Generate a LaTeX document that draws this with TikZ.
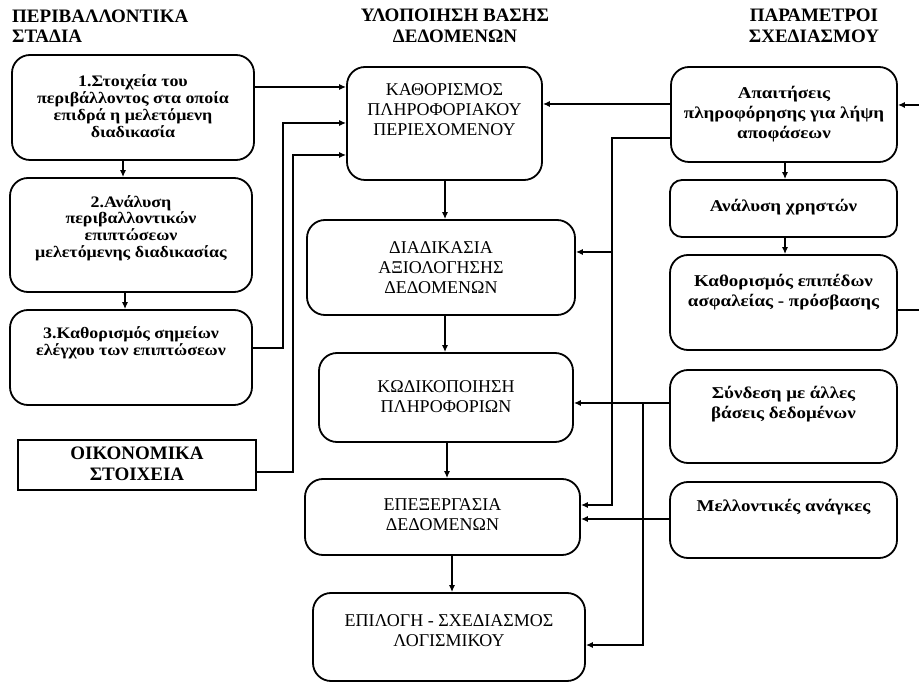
\documentclass[tikz,border=0pt]{standalone}
\usepackage{fontspec}
\setmainfont{Liberation Serif}
\newfontfamily\widelft[FakeStretch=1.12]{Liberation Serif}
\newfontfamily\widergt[FakeStretch=1.15]{Liberation Serif}
\usetikzlibrary{arrows.meta,calc}
\begin{document}
\begin{tikzpicture}[x=1pt,y=-1pt,
  box/.style={draw,line width=1.8pt,rounded corners=18pt,inner sep=0pt},
  sbox/.style={draw,line width=1.8pt,rounded corners=12pt,inner sep=0pt},
  rbox/.style={draw,line width=1.8pt,inner sep=0pt},
  head/.style={font=\bfseries\fontsize{19}{20.5}\selectfont,align=center,inner sep=0pt},
  ltxt/.style={font=\widelft\bfseries\fontsize{16}{16.8}\selectfont,align=center,inner sep=0pt},
  rtxt/.style={font=\widergt\bfseries\fontsize{16.5}{20}\selectfont,align=center,inner sep=0pt},
  mtxt/.style={font=\fontsize{18}{20}\selectfont,align=center,inner sep=0pt},
  conn/.style={line width=1.3pt},
  arr/.style={line width=1.3pt,-{Latex[length=7pt,width=6pt]}}]
\useasboundingbox[fill=white] (0,0) rectangle (919,684);

% headers
\node[head,align=left,anchor=west] (h1) at (12,26) {ΠΕΡΙΒΑΛΛΟΝΤΙΚΑ\\ΣΤΑΔΙΑ};
\node[head] (h2) at (455,26) {ΥΛΟΠΟΙΗΣΗ ΒΑΣΗΣ\\ΔΕΔΟΜΕΝΩΝ};
\node[head] (h3) at (814,26) {ΠΑΡΑΜΕΤΡΟΙ\\ΣΧΕΔΙΑΣΜΟΥ};

% left column
\node[box,minimum width=242pt,minimum height=105pt] (b1) at (133,107.5) {};
\node[ltxt] (t1) at (133,106) {1.Στοιχεία του\\περιβάλλοντος στα οποία\\επιδρά η μελετόμενη\\διαδικασία};
\node[box,minimum width=242pt,minimum height=114pt] (b2) at (131,235) {};
\node[ltxt] (t2) at (131,228) {2.Ανάλυση\\περιβαλλοντικών\\επιπτώσεων\\μελετόμενης διαδικασίας};
\node[box,minimum width=242pt,minimum height=95pt] (b3) at (131,357.5) {};
\node[ltxt] (t3) at (131,343) {3.Καθορισμός σημείων\\ελέγχου των επιπτώσεων};
\node[rbox,minimum width=238pt,minimum height=50pt] (oik) at (137,465) {};
\node[head] (t4) at (137,464) {ΟΙΚΟΝΟΜΙΚΑ\\ΣΤΟΙΧΕΙΑ};

% middle column
\node[box,minimum width=195pt,minimum height=113pt] (kat) at (444.5,123.5) {};
\node[mtxt] (t5) at (444.5,110) {ΚΑΘΟΡΙΣΜΟΣ\\ΠΛΗΡΟΦΟΡΙΑΚΟΥ\\ΠΕΡΙΕΧΟΜΕΝΟΥ};
\node[box,minimum width=268pt,minimum height=95pt] (dia) at (441,267.5) {};
\node[mtxt] (t6) at (441,268) {ΔΙΑΔΙΚΑΣΙΑ\\ΑΞΙΟΛΟΓΗΣΗΣ\\ΔΕΔΟΜΕΝΩΝ};
\node[box,minimum width=254pt,minimum height=89pt] (kod) at (446,397.5) {};
\node[mtxt] (t7) at (446,397) {ΚΩΔΙΚΟΠΟΙΗΣΗ\\ΠΛΗΡΟΦΟΡΙΩΝ};
\node[box,minimum width=275pt,minimum height=76pt] (epe) at (442.5,517) {};
\node[mtxt] (t8) at (442.5,515) {ΕΠΕΞΕΡΓΑΣΙΑ\\ΔΕΔΟΜΕΝΩΝ};
\node[box,minimum width=272pt,minimum height=88pt] (epi) at (449,637) {};
\node[mtxt] (t9) at (449,631) {ΕΠΙΛΟΓΗ - ΣΧΕΔΙΑΣΜΟΣ\\ΛΟΓΙΣΜΙΚΟΥ};

% right column
\node[box,minimum width=226pt,minimum height=95pt] (apa) at (784,114.5) {};
\node[rtxt] (t10) at (784,114) {Απαιτήσεις\\πληροφόρησης για λήψη\\αποφάσεων};
\node[sbox,minimum width=227pt,minimum height=57pt] (ana) at (783.5,208.5) {};
\node[rtxt] (t11) at (783.5,207) {Ανάλυση χρηστών};
\node[box,minimum width=227pt,minimum height=95pt] (kep) at (783.5,302.5) {};
\node[rtxt] (t12) at (783.5,292) {Καθορισμός επιπέδων\\ασφαλείας - πρόσβασης};
\node[box,minimum width=227pt,minimum height=93pt] (syn) at (783.5,416.5) {};
\node[rtxt] (t13) at (783.5,404) {Σύνδεση με άλλες\\βάσεις δεδομένων};
\node[box,minimum width=227pt,minimum height=76pt] (mel) at (783.5,520) {};
\node[rtxt] (t14) at (783.5,507) {Μελλοντικές ανάγκες};

% left column arrows
\draw[arr] (b1.south -| 123,0) -- (b2.north -| 123,0);
\draw[arr] (b2.south -| 125,0) -- (b3.north -| 125,0);
\draw[arr] (b1.east |- 0,87) -- (kat.west |- 0,87);
\draw[arr] (b3.east |- 0,348) -| (283,123) -- (kat.west |- 0,123);
\draw[arr] (oik.east |- 0,472) -| (293,155) -- (kat.west |- 0,155);

% middle column arrows
\draw[arr] (kat.south -| 445,0) -- (dia.north -| 445,0);
\draw[arr] (dia.south -| 445,0) -- (kod.north -| 445,0);
\draw[arr] (kod.south -| 447,0) -- (epe.north -| 447,0);
\draw[arr] (epe.south -| 452,0) -- (epi.north -| 452,0);

% right column arrows
\draw[arr] (apa.south -| 785,0) -- (ana.north -| 785,0);
\draw[arr] (ana.south -| 785,0) -- (kep.north -| 785,0);
\draw[arr] (kep.east |- 0,310) -- (935,310) |- (apa.east |- 0,105);

% cross connectors
\draw[arr] (apa.west |- 0,104) -- (kat.east |- 0,104);
\draw[arr] (apa.west |- 0,138) -| (612,505) -- (epe.east |- 0,505);
\draw[arr] (612,252) -- (dia.east |- 0,252);
\draw[arr] (syn.west |- 0,403) -- (kod.east |- 0,403);
\draw[arr] (643,403) |- (epi.east |- 0,645);
\draw[arr] (mel.west |- 0,519) -- (epe.east |- 0,519);
\end{tikzpicture}
\end{document}
